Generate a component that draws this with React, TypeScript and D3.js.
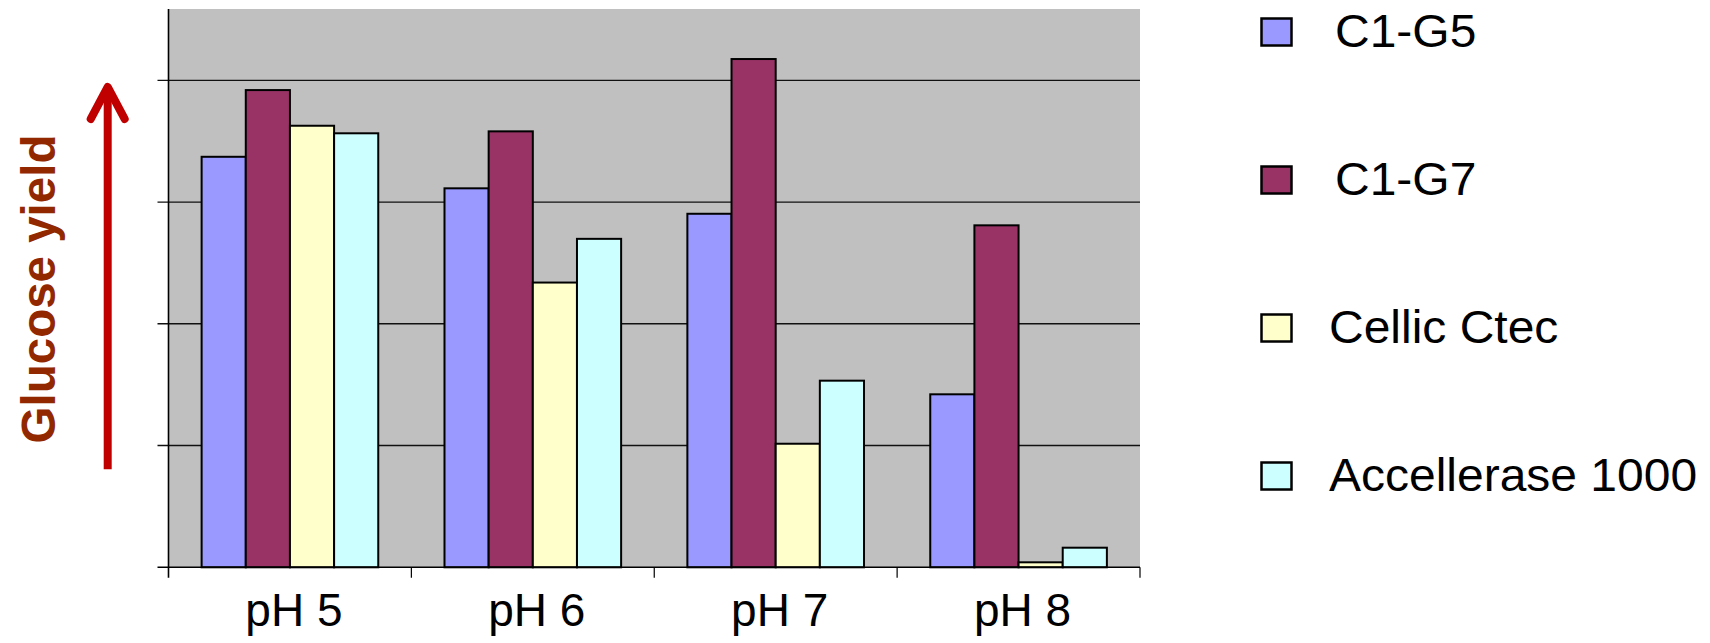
import React from "react";
import * as d3 from "d3";

const categories = ["pH 5", "pH 6", "pH 7", "pH 8"];
const seriesNames = ["C1-G5", "C1-G7", "Cellic Ctec", "Accellerase 1000"];
const c1g5 = [3.372, 3.113, 2.904, 1.421];
const c1g7 = [3.92, 3.581, 4.175, 2.809];
const cellic = [3.627, 2.339, 1.015, 0.041];
const accellerase = [3.565, 2.698, 1.533, 0.161];
const seriesValues = [c1g5, c1g7, cellic, accellerase];
const seriesColors = ["#9999FF", "#993366", "#FFFFCC", "#CCFFFF"];
const yTicks = [0, 1, 2, 3, 4];
const yMax = 4.586;
const yTitle = "Glucose yield";

const W = 1710;
const H = 643;
const plot = { left: 168.5, right: 1140, top: 9, bottom: 567.3 };
const FONT = "'Liberation Sans', Arial, Helvetica, sans-serif";

export default function App() {
  const x0 = d3
    .scaleBand<string>()
    .domain(categories)
    .range([plot.left, plot.right])
    .paddingInner(0)
    .paddingOuter(0);
  const catW = x0.bandwidth();
  const gapFrac = 1.5 / 5.5; // Excel gap width 150%
  const x1 = d3
    .scaleBand<string>()
    .domain(seriesNames)
    .range([(catW * gapFrac) / 2, catW - (catW * gapFrac) / 2])
    .padding(0);
  const y = d3.scaleLinear().domain([0, yMax]).range([plot.bottom, plot.top]);

  const legendY = d3
    .scalePoint<string>()
    .domain(seriesNames)
    .range([32, 476]);

  const arrowX = 107.7;
  const arrowTop = 87;
  const arrowBottom = 469.3;

  return (
    <svg
      width={W}
      height={H}
      style={{ position: "absolute", left: 0, top: 0, background: "#fff" }}
    >
      {/* plot background */}
      <rect
        x={plot.left}
        y={plot.top}
        width={plot.right - plot.left}
        height={plot.bottom - plot.top}
        fill="#C0C0C0"
      />
      {/* gridlines */}
      {yTicks.slice(1).map((t) => (
        <line
          key={"g" + t}
          x1={plot.left - 11}
          x2={plot.right}
          y1={y(t)}
          y2={y(t)}
          stroke="#111"
          strokeWidth={1.4}
        />
      ))}
      {/* bars */}
      {categories.map((c, ci) => (
        <g key={c} transform={`translate(${x0(c)},0)`}>
          {seriesNames.map((s, si) => {
            const v = seriesValues[si][ci];
            return (
              <rect
                key={s}
                x={x1(s)}
                y={y(v)}
                width={x1.bandwidth()}
                height={y(0) - y(v)}
                fill={seriesColors[si]}
                stroke="#000"
                strokeWidth={2}
              />
            );
          })}
        </g>
      ))}
      {/* axes */}
      <line
        x1={plot.left - 11}
        x2={plot.right}
        y1={y(0)}
        y2={y(0)}
        stroke="#000"
        strokeWidth={1.6}
      />
      <line
        x1={plot.left}
        x2={plot.left}
        y1={plot.top}
        y2={plot.bottom + 10.5}
        stroke="#000"
        strokeWidth={1.6}
      />
      {categories.map((c) => (
        <line
          key={"t" + c}
          x1={(x0(c) as number) + catW}
          x2={(x0(c) as number) + catW}
          y1={plot.bottom}
          y2={plot.bottom + 10.5}
          stroke="#000"
          strokeWidth={1.2}
        />
      ))}
      {categories.map((c) => (
        <text
          key={"l" + c}
          x={(x0(c) as number) + catW / 2 + 4}
          y={625.7}
          textAnchor="middle"
          fontFamily={FONT}
          fontSize={46}
          fill="#000"
        >
          {c}
        </text>
      ))}
      {/* y title */}
      <text
        transform={`translate(55, 289) rotate(-90)`}
        textAnchor="middle"
        fontFamily={FONT}
        fontWeight="bold"
        fontSize={47.5}
        fill="#922800"
      >
        {yTitle}
      </text>
      {/* arrow */}
      <g stroke="#C00000" strokeWidth={8} fill="none" strokeLinecap="round">
        <line
          x1={arrowX}
          x2={arrowX}
          y1={arrowBottom}
          y2={arrowTop + 2}
          strokeLinecap="butt"
        />
        <polyline
          points={`${arrowX - 17},${119} ${arrowX},${arrowTop} ${arrowX + 17},${119}`}
          strokeLinejoin="round"
        />
      </g>
      {/* legend */}
      {seriesNames.map((s, i) => {
        const cy = legendY(s) as number;
        return (
          <g key={"lg" + s}>
            <rect
              x={1261.5}
              y={cy - 13.5}
              width={30}
              height={27}
              fill={seriesColors[i]}
              stroke="#000"
              strokeWidth={2.5}
            />
            <text
              transform={`translate(${i < 2 ? 1335 : 1329}, ${cy + 15}) scale(1.055,1)`}
              fontFamily={FONT}
              fontSize={45.5}
              fill="#000"
            >
              {s}
            </text>
          </g>
        );
      })}
    </svg>
  );
}
